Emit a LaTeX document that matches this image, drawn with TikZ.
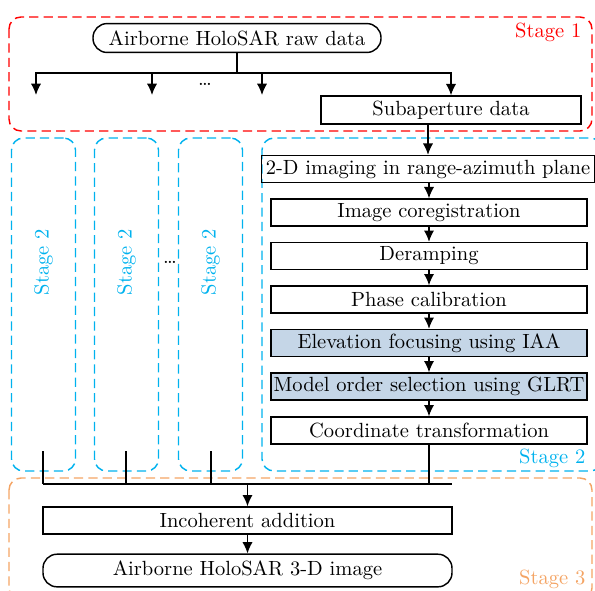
\documentclass[tikz,border=0pt]{standalone}
\usetikzlibrary{arrows.meta}

\definecolor{stageone}{RGB}{255,0,0}
\definecolor{stagetwo}{RGB}{0,178,238}
\definecolor{stagethree}{RGB}{244,164,100}
\definecolor{focusfill}{RGB}{197,214,231}
\newcommand{\pxu}{0.487pt}

\tikzset{
    procbox/.style={draw, rectangle, inner sep=1pt, minimum height=27*\pxu},
    focusbox/.style={procbox, fill=focusfill},
    termbox/.style={draw, rectangle, rounded corners=14*\pxu, minimum height=28*\pxu},
    stagebox/.style={draw, dash pattern=on 4.5pt off 2.5pt, rounded corners=12*\pxu},
    stagelabel/.style={inner sep=0pt, anchor=east},
}

\begin{document}
\begin{tikzpicture}[x=\pxu, y=-\pxu, line width=0.7pt, >={Latex[length=5.5pt,width=5pt]}]
    \useasboundingbox (0,0) rectangle (595,590);

    % Stage frames
    \draw[stagebox, stageone] (9,17) rectangle (592,131);
    \draw[stagebox, stagetwo] (262,138) rectangle (602,471);
    \draw[stagebox, stagethree] (9,478) rectangle (592,600);
    \node[stagelabel, text=stageone] (lab1) at (582,32) {Stage 1};
    \node[stagelabel, text=stagetwo] (lab2) at (586,458) {Stage 2};
    \node[stagelabel, text=stagethree] (lab3) at (586,579) {Stage 3};

    % The other subapertures
    \foreach \xx [count=\k] in {43.5,126.5,210.5} {
        \node[stagebox, stagetwo, minimum width=64*\pxu, minimum height=333*\pxu] (sub\k) at (\xx,304.5) {};
        \node[rotate=90, text=stagetwo] (sublab\k) at (\xx,262) {Stage 2};
    }
    \node (dotsmid) at (170,262) {\dots};

    % Stage 1
    \node[termbox, minimum width=288*\pxu] (raw) at (237,38) {Airborne HoloSAR raw data};
    \node[procbox, minimum width=260*\pxu, minimum height=28*\pxu] (sub) at (451,110) {Subaperture data};
    \coordinate (bus) at (237,73);
    \draw (raw.south) -- (bus);
    \foreach \xx [count=\k] in {36,152,262} {
        \coordinate (tip\k) at (\xx,95);
        \draw[->] (bus) -| (tip\k);
    }
    \draw[->] (bus) -| (sub.north);
    \node (dotstop) at (205,84) {\dots};

    % Stage 2
    \node[procbox, inner xsep=2pt, minimum height=27*\pxu] (img) at (428,169) {2-D imaging in range-azimuth plane};
    \node[procbox, minimum width=316*\pxu] (cor) at (429,212.5) {Image coregistration};
    \node[procbox, minimum width=316*\pxu] (der) at (429,256) {Deramping};
    \node[procbox, minimum width=316*\pxu] (pha) at (429,299.5) {Phase calibration};
    \node[focusbox, minimum width=316*\pxu] (elev) at (429,343) {Elevation focusing using IAA};
    \node[focusbox, minimum width=316*\pxu] (mos) at (429,386.5) {Model order selection using GLRT};
    \node[procbox, minimum width=316*\pxu] (coord) at (429,430.5) {Coordinate transformation};
    \foreach \a/\b in {sub/img, img/cor, cor/der, der/pha, pha/elev, elev/mos, mos/coord} {
        \draw[->] (\b.north |- \a.south) -- (\b.north);
    }

    % Stage 3
    \node[procbox, minimum width=409*\pxu] (add) at (247.5,520.5) {Incoherent addition};
    \node[termbox, minimum width=409*\pxu, minimum height=29*\pxu] (out) at (247.5,570.5) {Airborne HoloSAR 3-D image};
    \coordinate (mergel) at (43,484);
    \coordinate (merger) at (452,484);
    \draw (mergel) -- (merger);
    \foreach \xx [count=\k] in {43,126,211} {
        \coordinate (foot\k) at (\xx,451);
        \draw (foot\k) -- (foot\k |- mergel);
    }
    \draw (coord.south) -- (coord.south |- mergel);
    \draw[->] (add.north |- mergel) -- (add.north);
    \draw[->] (add) -- (out);

\end{tikzpicture}
\end{document}
